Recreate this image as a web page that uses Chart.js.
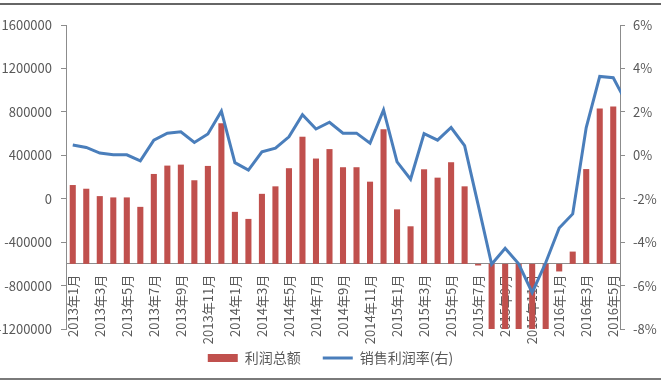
<!DOCTYPE html>
<html>
<head>
<meta charset="utf-8">
<script src="https://cdn.jsdelivr.net/npm/chart.js@4"></script>
<style>
  body { margin: 0; background: #fff; }
  #wrap { position: relative; width: 661px; height: 384px; }
  .rule { position: absolute; left: 0; width: 661px; height: 2px; background: #666; }
</style>
</head>
<body>
<div id="wrap">
  <canvas id="myChart" width="661" height="384"></canvas>
  <div class="rule" style="top:3px"></div>
  <div class="rule" style="top:378px;background:#7a7a7a"></div>
</div>
<script>
// months, last one sits just past the right axis (only the line reaches into it)
const months = [
    '2013年1月', '2013年2月', '2013年3月', '2013年4月', '2013年5月', '2013年6月',
    '2013年7月', '2013年8月', '2013年9月', '2013年10月', '2013年11月', '2013年12月',
    '2014年1月', '2014年2月', '2014年3月', '2014年4月', '2014年5月', '2014年6月',
    '2014年7月', '2014年8月', '2014年9月', '2014年10月', '2014年11月', '2014年12月',
    '2015年1月', '2015年2月', '2015年3月', '2015年4月', '2015年5月', '2015年6月',
    '2015年7月', '2015年8月', '2015年9月', '2015年10月', '2015年11月', '2015年12月',
    '2016年1月', '2016年2月', '2016年3月', '2016年4月', '2016年5月', '2016年6月'
];
const lastShown = 40; // 2016年5月

// 利润总额
const profit = [
    126000, 92000, 24000, 12000, 12000, -75000, 228000, 305000, 314000, 170000, 302000, 694000,
    -121000, -186000, 45000, 114000, 281000, 571000, 370000, 457000, 290000, 290000, 157000, 639000,
    -98000, -254000, 271000, 194000, 336000, 114000, -615000, -1200000, -1200000, -1200000, -1200000, -1200000,
    -670000, -487000, 273000, 830000, 850000, null
];

// 销售利润率 (%), right axis
const margin = [
    0.47, 0.36, 0.1, 0.03, 0.02, -0.26, 0.7, 1.02, 1.08, 0.59, 0.98, 2.03,
    -0.34, -0.68, 0.16, 0.33, 0.85, 1.87, 1.21, 1.52, 1.02, 1.02, 0.56, 2.09,
    -0.3, -1.1, 1.0, 0.7, 1.28, 0.44, -2.27, -5.02, -4.28, -5.0, -6.33, -4.95,
    -3.35, -2.7, 1.28, 3.63, 3.57, 2.4
];

const leftTicks = { min: -1200000, max: 1600000, step: 400000 };
const rightTicks = { min: -8, max: 6, step: 2 };
const axisCross = -600000; // category axis crosses here

const font = '"Noto Sans CJK SC", "Noto Sans", sans-serif';
const tickColor = '#595959';
const axisColor = '#8c8c8c';

const ctx = document.getElementById('myChart').getContext('2d');

new Chart(ctx, {
    data: {
        labels: months,
        datasets: [
            {
                type: 'line',
                label: '销售利润率(右)',
                data: margin,
                yAxisID: 'y1',
                borderColor: '#4a7ebb',
                backgroundColor: '#4a7ebb',
                borderWidth: 3,
                pointRadius: 0,
                pointStyle: 'line',
                tension: 0,
                clip: { left: 2, top: 2, right: 1, bottom: 2 },
                order: 1
            },
            {
                type: 'bar',
                label: '利润总额',
                data: profit,
                yAxisID: 'y',
                base: axisCross,
                backgroundColor: '#c0504d',
                borderWidth: 0,
                pointStyle: 'rect',
                categoryPercentage: 1,
                barPercentage: 0.45,
                order: 2
            }
        ]
    },
    options: {
        responsive: false,
        animation: false,
        layout: {
            padding: { top: 25, left: 0, right: 0, bottom: 9 }
        },
        scales: {
            x: {
                type: 'category',
                afterDataLimits: (scale) => { scale.max = lastShown; },
                position: { y: axisCross },
                z: 1,
                grid: { display: false },
                border: { display: true, color: axisColor, width: 1 },
                ticks: {
                    autoSkip: false,
                    maxRotation: 90,
                    minRotation: 90,
                    padding: 3,
                    color: tickColor,
                    font: { family: font, size: 13 },
                    callback: (v, i) => (i % 2 === 0 ? months[i] : '')
                }
            },
            y: {
                position: 'left',
                min: leftTicks.min,
                max: leftTicks.max,
                afterFit: (scale) => { scale.width = 66; },
                grid: { drawOnChartArea: false, drawTicks: true, tickLength: 5, color: axisColor },
                border: { display: true, color: axisColor },
                ticks: {
                    stepSize: leftTicks.step,
                    padding: 9,
                    color: tickColor,
                    font: { family: font, size: 13 },
                    callback: (v) => String(v)
                }
            },
            y1: {
                position: 'right',
                min: rightTicks.min,
                max: rightTicks.max,
                afterFit: (scale) => { scale.width = 41; },
                grid: { drawOnChartArea: false, drawTicks: true, tickLength: 5, color: axisColor },
                border: { display: true, color: axisColor },
                ticks: {
                    stepSize: rightTicks.step,
                    padding: 8,
                    color: tickColor,
                    font: { family: font, size: 13 },
                    callback: (v) => v + '%'
                }
            }
        },
        plugins: {
            legend: {
                position: 'bottom',
                reverse: true,
                labels: {
                    usePointStyle: true,
                    pointStyleWidth: 30,
                    boxHeight: 8,
                    padding: 22,
                    color: tickColor,
                    font: { family: font, size: 14 }
                }
            },
            tooltip: { enabled: false }
        }
    }
});
</script>
</body>
</html>
